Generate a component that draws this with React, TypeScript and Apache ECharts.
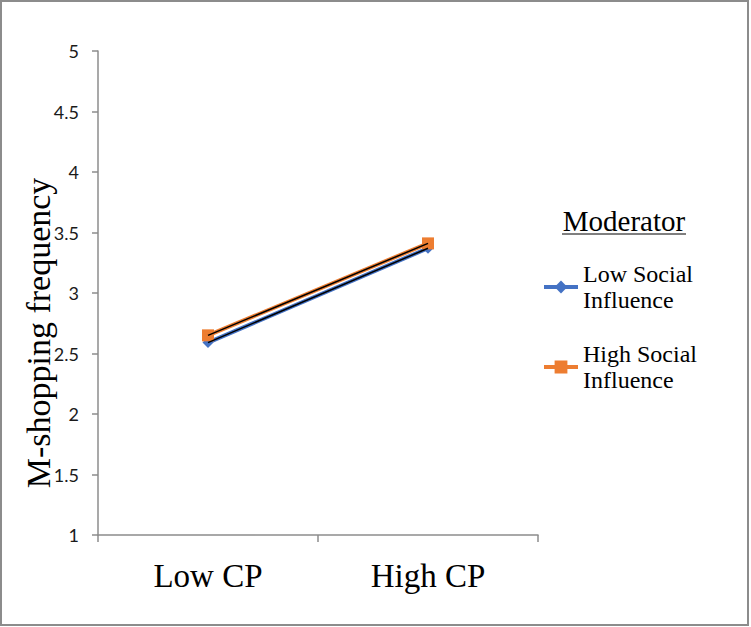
import React, { useEffect, useRef } from "react";
import * as echarts from "echarts";

const categories = ["Low CP", "High CP"];
const lowSocial = [2.59, 3.37];
const highSocial = [2.65, 3.41];
const seriesNames = ["Low Social Influence", "High Social Influence"];
const legendLabels: Record<string, string> = {
  "Low Social Influence": "Low Social\nInfluence",
  "High Social Influence": "High Social\nInfluence",
};
const yAxisTitle = "M-shopping frequency";
const legendTitle = "Moderator";

export default function App() {
  const ref = useRef<HTMLDivElement>(null);
  useEffect(() => {
    document.body.style.margin = "0";
    const chart = echarts.init(ref.current!, undefined, { renderer: "svg" });
    const serif = "'Liberation Serif', 'Times New Roman', serif";
    chart.setOption({
      animation: false,
      backgroundColor: "#ffffff",
      grid: { left: 98, top: 51, right: 213, bottom: 92, containLabel: false },
      xAxis: {
        type: "category",
        data: categories,
        boundaryGap: true,
        axisLine: { lineStyle: { color: "#8c8c8c", width: 1.5 } },
        axisTick: { show: true, length: 7, lineStyle: { color: "#8c8c8c", width: 1.5 } },
        axisLabel: { fontFamily: serif, fontSize: 33, color: "#000", margin: 24 },
      },
      yAxis: {
        type: "value",
        min: 1,
        max: 5,
        interval: 0.5,
        splitLine: { show: false },
        axisLine: { show: true, lineStyle: { color: "#8c8c8c", width: 1.5 } },
        axisTick: { show: true, length: 6, lineStyle: { color: "#8c8c8c", width: 1.5 } },
        axisLabel: { fontFamily: "Lato, 'Open Sans', sans-serif", fontSize: 18, color: "#1a1a1a", margin: 19 },
      },
      legend: {
        orient: "vertical",
        left: 537,
        top: 245,
        itemWidth: 34,
        itemHeight: 16,
        itemGap: 6,
        data: seriesNames,
        lineStyle: { width: 4 },
        formatter: (n: string) => legendLabels[n] || n,
        textStyle: {
          fontFamily: serif,
          fontSize: 24,
          color: "#000",
          lineHeight: 26,
          padding: [22, 0, 0, 0],
        },
      },
      graphic: [
        {
          type: "rect",
          shape: { x: 1, y: 1, width: 747, height: 624 },
          style: { fill: "none", stroke: "#8c8c8c", lineWidth: 2 },
          silent: true,
        },
        {
          type: "text",
          x: 38,
          y: 333,
          rotation: Math.PI / 2,
          style: {
            text: yAxisTitle,
            font: `34px ${serif}`,
            fill: "#000",
            align: "center",
            verticalAlign: "middle",
          },
        },
        {
          type: "text",
          x: 624,
          y: 221,
          style: {
            text: legendTitle,
            font: `29px ${serif}`,
            fill: "#000",
            align: "center",
            verticalAlign: "middle",
          },
        },
        {
          type: "line",
          shape: { x1: 562, y1: 234, x2: 686, y2: 234 },
          style: { stroke: "#000", lineWidth: 1.2 },
        },
      ],
      series: [
        {
          name: seriesNames[0],
          type: "line",
          data: lowSocial,
          symbol: "diamond",
          symbolSize: 11,
          itemStyle: { color: "#4472C4" },
          lineStyle: { color: "#4472C4", width: 4 },
          z: 2,
        },
        {
          name: seriesNames[1],
          type: "line",
          data: highSocial,
          symbol: "rect",
          symbolSize: 12,
          itemStyle: { color: "#ED7D31" },
          lineStyle: { color: "#ED7D31", width: 4 },
          z: 3,
        },
        {
          name: "trend-low",
          type: "line",
          data: lowSocial,
          symbol: "none",
          silent: true,
          lineStyle: { color: "#000", width: 1.5 },
          z: 4,
        },
        {
          name: "trend-high",
          type: "line",
          data: highSocial,
          symbol: "none",
          silent: true,
          lineStyle: { color: "#000", width: 1.5 },
          z: 5,
        },
      ],
    });
    return () => chart.dispose();
  }, []);
  return <div ref={ref} style={{ width: 751, height: 627 }} />;
}
